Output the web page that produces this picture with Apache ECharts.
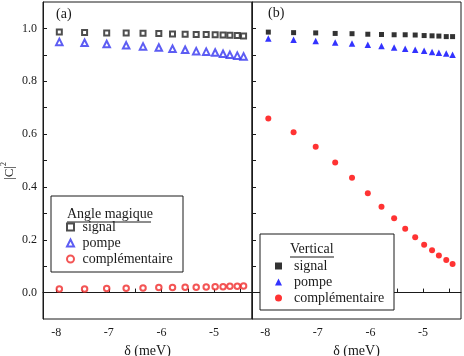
<!DOCTYPE html>
<html>
<head>
<meta charset="utf-8">
<script src="https://cdn.jsdelivr.net/npm/echarts@6/dist/echarts.min.js"></script>
<style>
  html, body { margin: 0; padding: 0; background: #fff; }
  #main { width: 464px; height: 356px; }
</style>
</head>
<body>
<div id="main"></div>
<script>
// detuning delta (meV), same points in both panels
var deltaMeV = [-7.94, -7.46, -7.04, -6.67, -6.35, -6.05, -5.79, -5.55, -5.34, -5.15, -4.98, -4.83, -4.70, -4.56, -4.44];

// (a) angle magique
var magicSignal = [0.986, 0.985, 0.983, 0.983, 0.982, 0.981, 0.979, 0.978, 0.977, 0.977, 0.976, 0.975, 0.974, 0.973, 0.971];
var magicPompe = [0.949, 0.946, 0.941, 0.936, 0.932, 0.928, 0.923, 0.919, 0.914, 0.912, 0.909, 0.904, 0.900, 0.897, 0.894];
var magicCompl = [0.014, 0.014, 0.015, 0.016, 0.017, 0.019, 0.019, 0.020, 0.020, 0.021, 0.022, 0.022, 0.024, 0.024, 0.025];

// (b) vertical
var vertSignal = [0.986, 0.984, 0.983, 0.981, 0.980, 0.978, 0.977, 0.976, 0.976, 0.975, 0.973, 0.972, 0.971, 0.969, 0.969];
var vertPompe = [0.962, 0.957, 0.952, 0.947, 0.943, 0.938, 0.933, 0.928, 0.923, 0.919, 0.915, 0.911, 0.908, 0.905, 0.900];
var vertCompl = [0.659, 0.607, 0.552, 0.492, 0.435, 0.376, 0.325, 0.281, 0.242, 0.209, 0.181, 0.160, 0.140, 0.123, 0.108];

// ticks
var xLabels = [-8, -7, -6, -5];
var xTicks = [-8, -7.5, -7, -6.5, -6, -5.5, -5, -4.5];
var yLabels = [0, 0.2, 0.4, 0.6, 0.8, 1.0];
var yTicks = [0, 0.1, 0.2, 0.3, 0.4, 0.5, 0.6, 0.7, 0.8, 0.9, 1.0];

var font = 'Liberation Serif';
var ink = '#1a1a1a';

function pts(ys) {
    return deltaMeV.map(function (x, i) { return [x, ys[i]]; });
}

function xAxisFor(gi) {
    return {
        type: 'value', gridIndex: gi, min: -8.25, max: -4.28,
        name: 'δ (meV)', nameLocation: 'middle', nameGap: 22,
        nameTextStyle: { fontFamily: font, fontSize: 14, color: ink },
        axisLine: { lineStyle: { color: ink } },
        axisTick: { inside: true, length: 4, customValues: xTicks, lineStyle: { color: ink } },
        axisLabel: { customValues: xLabels, margin: 8, fontFamily: font, fontSize: 12, color: ink },
        splitLine: { show: false }
    };
}

function yAxisFor(gi, showLabels) {
    return {
        type: 'value', gridIndex: gi, min: -0.1, max: 1.1,
        axisLine: { lineStyle: { color: ink } },
        axisTick: { inside: true, length: 4, customValues: yTicks, lineStyle: { color: ink } },
        axisLabel: {
            show: showLabels, customValues: yLabels, margin: 6,
            fontFamily: font, fontSize: 12, color: ink,
            formatter: function (v) { return v.toFixed(1); }
        },
        splitLine: { show: false }
    };
}

function legendFor(top, left, items, fmt) {
    return {
        orient: 'vertical', top: top, left: left, z: 6,
        itemWidth: 7, itemHeight: 7, itemGap: 0,
        selectedMode: false,
        itemStyle: { borderWidth: 0.8 },
        data: items,
        formatter: fmt,
        textStyle: { fontFamily: font, fontSize: 14, color: ink, lineHeight: 16 }
    };
}

var option = {
    backgroundColor: '#fff',
    animation: false,
    grid: [
        { left: 43, top: 2, width: 209, height: 317, outerBoundsMode: 'none', show: true, borderColor: ink, borderWidth: 1 },
        { left: 252, top: 2, width: 209, height: 317, outerBoundsMode: 'none', show: true, borderColor: ink, borderWidth: 1 }
    ],
    xAxis: [xAxisFor(0), xAxisFor(1)],
    yAxis: [yAxisFor(0, true), yAxisFor(1, false)],
    legend: [
        legendFor(214, 61, ['signal', 'pompe', 'complémentaire'], ' {name}'),
        legendFor(253, 270, [
            { name: 'signal', icon: 'rect', itemStyle: { color: '#000' } },
            { name: 'pompe', icon: 'triangle', itemStyle: { color: '#0000ff' } },
            { name: 'complémentaire', icon: 'circle', itemStyle: { color: '#ff0000' } }
        ], '  {name}')
    ],
    series: [
        { name: 'signal', type: 'scatter', xAxisIndex: 0, yAxisIndex: 0, symbol: 'emptyRect', symbolSize: 5,
          itemStyle: { color: '#222', borderWidth: 0.8 }, data: pts(magicSignal) },
        { name: 'pompe', type: 'scatter', xAxisIndex: 0, yAxisIndex: 0, symbol: 'emptyTriangle', symbolSize: 6.5,
          itemStyle: { color: '#3535f0', borderWidth: 0.8 }, data: pts(magicPompe) },
        { name: 'complémentaire', type: 'scatter', xAxisIndex: 0, yAxisIndex: 0, symbol: 'emptyCircle', symbolSize: 5.5,
          itemStyle: { color: '#f02a2a', borderWidth: 0.8 }, data: pts(magicCompl) },
        { name: 'signal', type: 'scatter', xAxisIndex: 1, yAxisIndex: 1, symbol: 'rect', symbolSize: 5,
          itemStyle: { color: '#000' }, data: pts(vertSignal) },
        { name: 'pompe', type: 'scatter', xAxisIndex: 1, yAxisIndex: 1, symbol: 'triangle', symbolSize: 6.5,
          itemStyle: { color: '#0000ff' }, data: pts(vertPompe) },
        { name: 'complémentaire', type: 'scatter', xAxisIndex: 1, yAxisIndex: 1, symbol: 'circle', symbolSize: 6,
          itemStyle: { color: '#ff0000' }, data: pts(vertCompl) }
    ],
    graphic: [
        // legend boxes
        { type: 'rect', z: 4, shape: { x: 51, y: 196, width: 132, height: 76 },
          style: { fill: '#fff', stroke: ink, lineWidth: 1 } },
        { type: 'rect', z: 4, shape: { x: 260, y: 234, width: 134, height: 76 },
          style: { fill: '#fff', stroke: ink, lineWidth: 1 } },
        { type: 'text', z: 6, x: 67, y: 214,
          style: { text: 'Angle magique', font: '14px ' + font, fill: ink, textVerticalAlign: 'middle' } },
        { type: 'line', z: 6, shape: { x1: 67, y1: 222, x2: 151, y2: 222 }, style: { stroke: ink, lineWidth: 1 } },
        { type: 'text', z: 6, x: 290, y: 249,
          style: { text: 'Vertical', font: '14px ' + font, fill: ink, textVerticalAlign: 'middle' } },
        { type: 'line', z: 6, shape: { x1: 290, y1: 257, x2: 334, y2: 257 }, style: { stroke: ink, lineWidth: 1 } },
        // panel tags
        { type: 'text', z: 6, x: 56, y: 14,
          style: { text: '(a)', font: '14px ' + font, fill: ink, textVerticalAlign: 'middle' } },
        { type: 'text', z: 6, x: 268, y: 13,
          style: { text: '(b)', font: '14px ' + font, fill: ink, textVerticalAlign: 'middle' } },
        // y axis name |C|^2
        { type: 'group', x: 10, y: 173, rotation: Math.PI / 2, children: [
            { type: 'text', x: 0, y: 0,
              style: { text: '|C|', font: '13px ' + font, fill: ink, textAlign: 'center', textVerticalAlign: 'middle' } },
            { type: 'text', x: 9, y: -6,
              style: { text: '2', font: '8px ' + font, fill: ink, textAlign: 'center', textVerticalAlign: 'middle' } }
        ] }
    ]
};

var myChart = echarts.init(document.getElementById('main'));
myChart.setOption(option);
</script>
</body>
</html>
